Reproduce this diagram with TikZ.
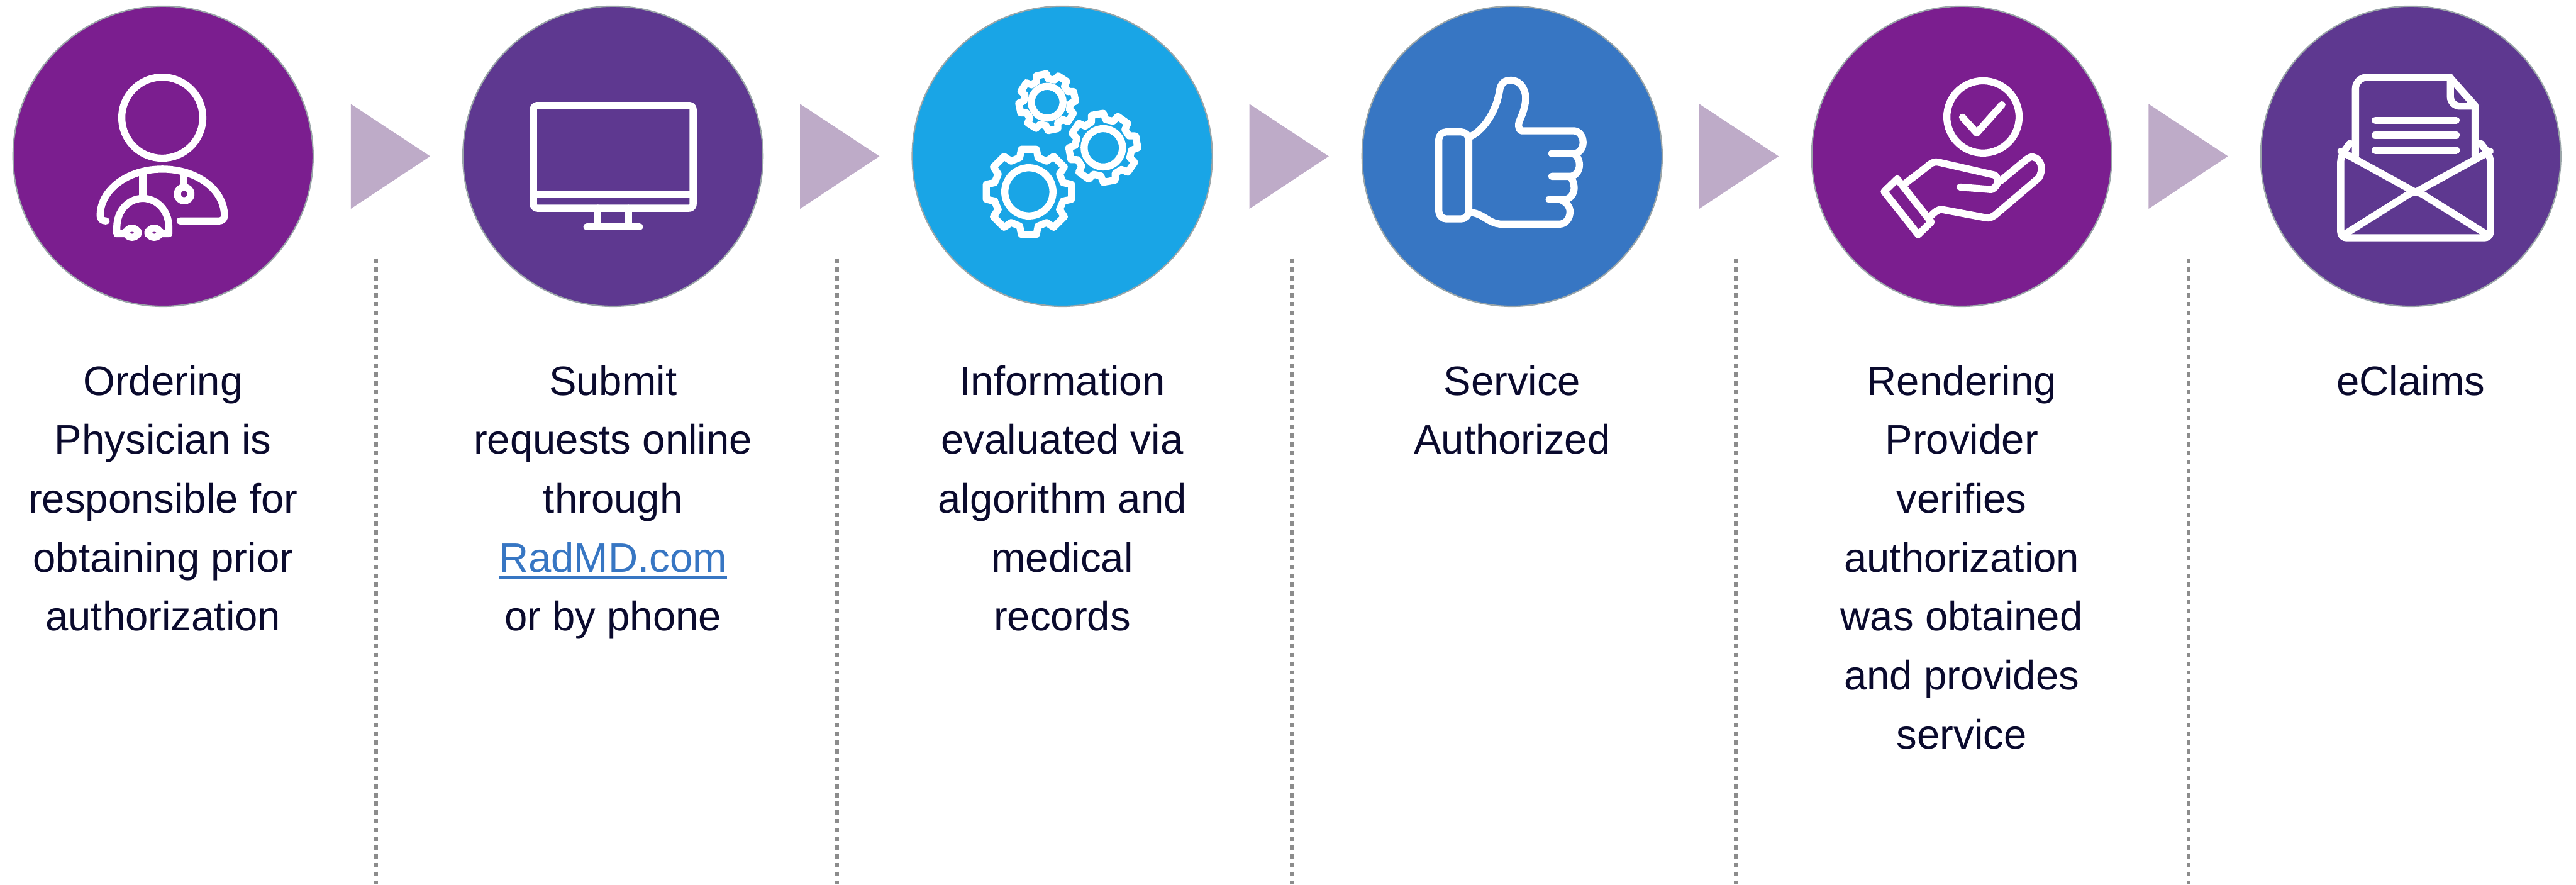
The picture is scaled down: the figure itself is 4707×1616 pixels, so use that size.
\documentclass[tikz,border=0pt]{standalone}
\usepackage{fontspec}
\setmainfont{Liberation Sans}
\usepackage{tikz}
\usetikzlibrary{positioning}

\definecolor{plumfill}{HTML}{7B1E8F}
\definecolor{violetfill}{HTML}{5E3890}
\definecolor{skyfill}{HTML}{19A5E6}
\definecolor{bluefill}{HTML}{3776C3}
\definecolor{arrowfill}{HTML}{BEABC8}
\definecolor{ringgray}{HTML}{9AA5A8}
\definecolor{dotgray}{HTML}{8C8C8C}
\definecolor{inktext}{HTML}{0A0A2D}

\newcommand{\linktext}[1]{\setbox0\hbox{#1}\rlap{\rule[-0.135cm]{\wd0}{0.06cm}}#1}

\begin{document}
\begin{tikzpicture}[
  x=0.01cm,
  y=-0.01cm,
  disc/.style={
    circle,
    draw=ringgray,
    line width=0.025cm,
    minimum size=5.48cm,
    inner sep=0pt
  },
  steptext/.style={
    below=1.06cm of #1,
    inner sep=0pt,
    align=center,
    text=inktext,
    font=\fontsize{21.34}{30.6}\selectfont
  },
  iconline/.style={
    draw=white,
    line width=0.13cm,
    line cap=round,
    line join=round
  },
  sepline/.style={
    draw=dotgray,
    line width=0.07cm,
    dash pattern=on 0.08cm off 0.08cm
  }
]
\useasboundingbox (0,0) rectangle (4707,1616);

% Step discs
\node[disc, fill=plumfill] (physician) at (298,285.5) {};
\node[disc, fill=violetfill] (monitor) at (1120,285.5) {};
\node[disc, fill=skyfill] (gears) at (1941,285.5) {};
\node[disc, fill=bluefill] (thumb) at (2763,285.5) {};
\node[disc, fill=plumfill] (provider) at (3584.5,285.5) {};
\node[disc, fill=violetfill] (claims) at (4405,285.5) {};

% Step texts
\node[steptext=physician] (physiciantext) {Ordering\\Physician is\\responsible for\\obtaining prior\\authorization};
\node[steptext=monitor] (monitortext) {Submit\\requests online\\through\\{\color{bluefill}\linktext{RadMD.com}}\\or by phone};
\node[steptext=gears] (gearstext) {Information\\evaluated via\\algorithm and\\medical\\records};
\node[steptext=thumb] (thumbtext) {Service\\Authorized};
\node[steptext=provider] (providertext) {Rendering\\Provider\\verifies\\authorization\\was obtained\\and provides\\service};
\node[steptext=claims] (claimstext) {eClaims};

% Triangles between the discs
\foreach \x in {641,1462,2283,3105,3926} {
  \fill[arrowfill] (\x,190) -- (\x+145,285.5) -- (\x,381.5) -- cycle;
}

% Dotted separators
\foreach \x/\n in {687/a,1529/b,2360/c,3172/d,3999/e} {
  \coordinate (septop\n) at (\x,472);
  \coordinate (sepbot\n) at (\x,1616);
  \draw[sepline] (septop\n) -- (sepbot\n);
}

% Physician icon
\draw[iconline] (296.5,215) circle[radius=74];
\draw[iconline] (194,403.7) .. controls (187,403.7) and (183,400) .. (183,394)
  .. controls (183,347) and (233,309) .. (296.5,309)
  .. controls (360,309) and (410,347) .. (410,394)
  .. controls (410,400) and (406,403.7) .. (400,403.7) -- (329,403.7);
\draw[iconline] (261,316) -- (261,362);
\draw[iconline] (336.5,320) -- (336.5,342);
\draw[iconline] (336.5,354.5) circle[radius=12.5];
\draw[iconline] (228,427) -- (213.5,427) -- (213.5,415)
  .. controls (213.5,385) and (235,362.5) .. (261,362.5)
  .. controls (287,362.5) and (308.5,385) .. (308.5,415) -- (308.5,427) -- (294,427);
\draw[iconline, rounded corners=3pt] (230,417) rectangle (252.5,433.5);
\draw[iconline, rounded corners=3pt] (270.5,417) rectangle (293,433.5);

% Monitor icon
\draw[iconline, rounded corners=2pt] (974.7,192.7) rectangle (1266.5,380.5);
\draw[iconline] (974.7,355) -- (1266.5,355);
\draw[iconline] (1092.5,380.5) -- (1092.5,414);
\draw[iconline] (1148,380.5) -- (1148,414);
\draw[iconline] (1072.5,414.3) -- (1168.5,414.3);

% Gears icon
\foreach \cx/\cy/\rtip/\rring/\rot in {1880/350.5/79/44/0,1913.4/186.7/52/29/12,2016/270/63/35/10} {
  \pgfmathsetmacro{\rroot}{\rtip*0.82}
  \begin{scope}[shift={(\cx,\cy)}, rotate=\rot]
    \draw[iconline] (0,0) circle[radius=\rring];
    \draw[iconline] (-15:\rroot) \foreach \a in {0,45,...,315} {
      -- (\a-15:\rroot) -- (\a-10:\rtip) -- (\a+10:\rtip) -- (\a+15:\rroot)
    } -- cycle;
  \end{scope}
}

% Thumb icon
\draw[iconline, rounded corners=4pt] (2629,241) rectangle (2683.7,400);
\draw[iconline] (2684,250.7) .. controls (2710,240) and (2733,205) .. (2739.6,168.4)
  .. controls (2742,150) and (2750,146.6) .. (2761.6,146.6)
  .. controls (2778,146.6) and (2790,165) .. (2787.4,185)
  .. controls (2785,205) and (2778,215) .. (2775,225.8)
  .. controls (2774,233) and (2777,239) .. (2780.8,239) -- (2875.5,239)
  .. controls (2886,239) and (2892.7,250) .. (2892.7,260)
  .. controls (2892.7,271) and (2886,280.5) .. (2875.5,280.5) -- (2835.3,280.5);
\draw[iconline] (2875.5,280.5) .. controls (2882,285) and (2886,292) .. (2886,301.6)
  .. controls (2886,312) and (2879,322.2) .. (2868.8,322.2) -- (2835.3,322.2);
\draw[iconline] (2868.8,322.2) .. controls (2873,327) and (2876.4,335) .. (2876.4,343.3)
  .. controls (2876.4,354) and (2869,364.3) .. (2859.2,364.3) -- (2830.5,364.3);
\draw[iconline] (2849.6,364.3) .. controls (2862,368) and (2868.8,378) .. (2868.8,386.5)
  .. controls (2868.8,400) and (2860,409.5) .. (2849.6,409.5) -- (2744.4,409.5)
  .. controls (2722,409.5) and (2712,392) .. (2690,388.4);

% Provider icon
\draw[iconline] (3623.4,213.6) circle[radius=66];
\draw[iconline] (3586,214.3) -- (3612,243) -- (3658,191.4);
\draw[iconline] (3466.7,327) -- (3442.8,350) -- (3505,428.6) -- (3528.8,405.6) -- cycle;
\draw[iconline] (3479,336.8) -- (3519.3,306) .. controls (3528,298) and (3535,294) .. (3543,296.6)
  -- (3643.7,319.6) .. controls (3652,323) and (3654,340) .. (3639,346.3) -- (3581.5,341.8);
\draw[iconline] (3655,331) -- (3701,292.8) .. controls (3708,287) and (3712,286) .. (3715.4,287)
  .. controls (3730,290) and (3735,310) .. (3725,325.3) -- (3648.4,390.4)
  .. controls (3642,396) and (3636,399) .. (3629.3,398) -- (3548,382.7)
  .. controls (3542,382) and (3534,388) .. (3529,394);

% Envelope icon
\draw[iconline, rounded corners=3pt] (4293.7,262) -- (4277,285) -- (4277,434.4)
  -- (4550.5,434.4) -- (4550.5,285) -- (4533,262);
\draw[iconline] (4277.3,276.3) -- (4413.6,351.3) -- (4550,276.3);
\draw[iconline] (4283.4,428.6) -- (4399.2,356) .. controls (4408,350) and (4419,350) .. (4428,356)
  -- (4544.4,428.6);
\draw[iconline, rounded corners=6pt] (4304,285) -- (4304,141.2) -- (4476.4,141.2);
\draw[iconline] (4476.4,141.2) -- (4522.7,193.3) -- (4522.7,285);
\draw[iconline, rounded corners=5pt] (4477.4,141.2) -- (4477.4,194) -- (4522,194);
\draw[iconline] (4340,220) -- (4488,220);
\draw[iconline] (4340,247) -- (4488,247);
\draw[iconline] (4340,274.8) -- (4488,274.8);

\end{tikzpicture}
\end{document}
